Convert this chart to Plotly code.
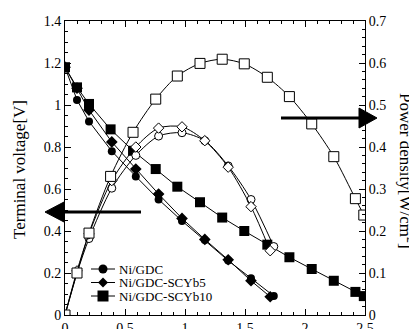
import plotly.graph_objects as go

# ---- data ----
gdc_i = [0, 0.1, 0.2, 0.39, 0.59, 0.78, 0.975, 1.165, 1.36, 1.55, 1.74]
gdc_v = [1.18, 1.024, 0.922, 0.78, 0.66, 0.55, 0.448, 0.357, 0.259, 0.175, 0.09]
gdc_p = [0, 0.1, 0.182, 0.302, 0.38, 0.426, 0.434, 0.415, 0.355, 0.275, 0.163]

scyb5_i = [0, 0.1, 0.2, 0.39, 0.59, 0.78, 0.975, 1.165, 1.36, 1.55, 1.71]
scyb5_v = [1.18, 1.08, 0.976, 0.824, 0.695, 0.576, 0.46, 0.36, 0.263, 0.163, 0.087]
scyb5_p = [0, 0.105, 0.193, 0.32, 0.4, 0.445, 0.448, 0.415, 0.352, 0.258, 0.153]

scyb10_i = [0, 0.1, 0.2, 0.38, 0.567, 0.756, 0.936, 1.125, 1.31, 1.494, 1.686, 1.87, 2.056, 2.24, 2.42, 2.49]
scyb10_v = [1.18, 1.084, 1.005, 0.884, 0.782, 0.695, 0.611, 0.537, 0.464, 0.4, 0.335, 0.275, 0.219, 0.163, 0.11, 0.09]
scyb10_p = [0, 0.1, 0.195, 0.33, 0.435, 0.514, 0.569, 0.599, 0.609, 0.598, 0.566, 0.52, 0.455, 0.377, 0.277, 0.238]

names = ["Ni/GDC", "Ni/GDC-SCYb5", "Ni/GDC-SCYb10"]

FONT = "Times New Roman, Liberation Serif, serif"
fig = go.Figure()

series = [
    (gdc_i, gdc_v, gdc_p, "circle", 8),
    (scyb5_i, scyb5_v, scyb5_p, "diamond", 9),
    (scyb10_i, scyb10_v, scyb10_p, "square", 10),
]

# power curves (open markers, right axis)
for (xi, v, p, sym, sz), nm in zip(series, names):
    fig.add_trace(go.Scatter(
        x=xi, y=p, yaxis="y2", mode="lines+markers", showlegend=False,
        line=dict(color="black", width=1, shape="spline", smoothing=0.8),
        marker=dict(symbol=sym, size=sz if sym != "diamond" else 8, color="white",
                    line=dict(color="black", width=1)),
        name=nm + " power"))

# voltage curves (filled markers, left axis)
for (xi, v, p, sym, sz), nm in zip(series, names):
    fig.add_trace(go.Scatter(
        x=xi, y=v, yaxis="y", mode="lines+markers", name=nm, showlegend=False,
        line=dict(color="black", width=1),
        marker=dict(symbol=sym, size=sz, color="black",
                    line=dict(color="black", width=0))))

tickfont = dict(family=FONT, size=14, color="black")

# page has an 8px body margin; plot area spans px 65..365 x 21..315 of the window
fig.update_layout(
    template="none",
    width=409, height=321,
    margin=dict(l=57, r=52, t=13, b=14, autoexpand=False),
    paper_bgcolor="white", plot_bgcolor="white",
    font=dict(family=FONT, color="black"),
    xaxis=dict(range=[0, 2.5], dtick=0.5, tick0=0, ticks="inside", ticklen=6,
               tickcolor="black", showline=True, linecolor="black", linewidth=1,
               mirror="ticks", showgrid=False, zeroline=False, tickfont=tickfont,
               automargin=False,
               minor=dict(dtick=0.1, ticks="inside", ticklen=3, tickcolor="black", showgrid=False)),
    yaxis=dict(range=[0, 1.4], dtick=0.2, tick0=0, ticks="inside", ticklen=6,
               tickcolor="black", showline=True, linecolor="black", linewidth=1,
               showgrid=False, zeroline=False, tickfont=tickfont, automargin=False,
               minor=dict(dtick=0.05, ticks="inside", ticklen=3, tickcolor="black", showgrid=False)),
    yaxis2=dict(range=[0, 0.7], dtick=0.1, tick0=0, overlaying="y", side="right",
                ticks="inside", ticklen=6, tickcolor="black", showline=True,
                linecolor="black", linewidth=1, showgrid=False, zeroline=False,
                tickfont=tickfont, automargin=False,
                minor=dict(dtick=0.02, ticks="inside", ticklen=3, tickcolor="black", showgrid=False)),
    showlegend=False,
)

# helpers: window pixel -> paper coords
def px(xp):
    return (xp - 65) / 300.0

def py(yp):
    return (315 - yp) / 294.0

# axis titles
fig.add_annotation(text="Terminal voltage[V]", textangle=-90, xref="paper", yref="paper",
                   x=px(19), y=py(170), xanchor="center", yanchor="middle", showarrow=False,
                   font=dict(family=FONT, size=17, color="black"))
fig.add_annotation(text="Power density[W/cm<sup>2</sup>]", textangle=90, xref="paper", yref="paper",
                   x=px(407), y=py(171), xanchor="center", yanchor="middle", showarrow=False,
                   font=dict(family=FONT, size=17, color="black"))

# arrows (decorations)
fig.add_shape(type="line", xref="paper", yref="paper", x0=px(141), x1=px(62), y0=py(212), y1=py(212),
              line=dict(color="black", width=3))
fig.add_shape(type="path", xref="paper", yref="paper",
              path=f"M {px(45)},{py(212)} L {px(64)},{py(202)} L {px(64)},{py(222)} Z",
              fillcolor="black", line=dict(color="black", width=1))
fig.add_shape(type="line", xref="paper", yref="paper", x0=px(281), x1=px(362), y0=py(118), y1=py(118),
              line=dict(color="black", width=3))
fig.add_shape(type="path", xref="paper", yref="paper",
              path=f"M {px(377)},{py(118)} L {px(359)},{py(108)} L {px(359)},{py(128)} Z",
              fillcolor="black", line=dict(color="black", width=1))

# legend (line + marker + label)
leg_rows = [269, 282.5, 296]
for (xi, v, p, sym, sz), nm, ry in zip(series, names, leg_rows):
    fig.add_shape(type="line", xref="paper", yref="paper", x0=px(91), x1=px(115),
                  y0=py(ry), y1=py(ry), line=dict(color="black", width=1))
    h = (sz + 1) / 2.0
    if sym == "circle":
        fig.add_shape(type="circle", xref="paper", yref="paper",
                      x0=px(103 - h), x1=px(103 + h), y0=py(ry + h), y1=py(ry - h),
                      fillcolor="black", line=dict(color="black", width=0))
    elif sym == "diamond":
        fig.add_shape(type="path", xref="paper", yref="paper",
                      path=f"M {px(103 - h)},{py(ry)} L {px(103)},{py(ry - h)} L {px(103 + h)},{py(ry)} L {px(103)},{py(ry + h)} Z",
                      fillcolor="black", line=dict(color="black", width=0))
    else:
        fig.add_shape(type="rect", xref="paper", yref="paper",
                      x0=px(103 - h), x1=px(103 + h), y0=py(ry + h), y1=py(ry - h),
                      fillcolor="black", line=dict(color="black", width=0))
    fig.add_annotation(text=nm, xref="paper", yref="paper", x=px(117), y=py(ry),
                       xanchor="left", yanchor="middle", showarrow=False,
                       font=dict(family=FONT, size=13, color="black"))

fig.write_html("out.html")
